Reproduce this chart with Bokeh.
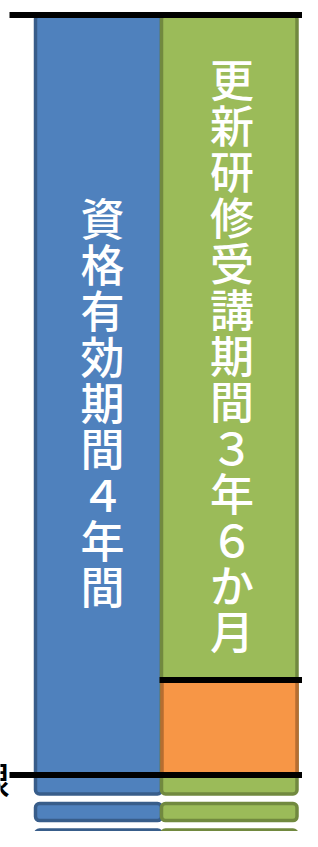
from bokeh.plotting import figure
from bokeh.models import Range1d, ColumnDataSource
from bokeh.core.properties import value
from bokeh.embed import file_html
from bokeh.resources import INLINE

# ---- data (time in years, measured downward from the start of validity) ----
column_labels = ["資格有効期間４年間", "更新研修受講期間３年６か月"]
period_years = [4.0, 3.5]          # validity period, renewal-course window
renewal_gap_start = 3.5            # end of the 3y6m course window
renewal_gap_end = 4.0              # expiry (期限)
expiry_label = "期限"
segment_tops = [0.0, 4.15, 4.29]   # continuing bar blocks (years)
segment_bottoms = [4.10, 4.24, 4.60]

# ---- styles / layout ----
BLUE, BLUE_EDGE = "#4F81BD", "#385D8A"
GREEN, GREEN_EDGE = "#9BBB59", "#71893F"
ORANGE, ORANGE_EDGE = "#F79646", "#B66D31"
PX_PER_YEAR = 190.0
ORIGIN = 14.5
W, H = 302, 831
FONT = "'Noto Sans CJK JP Medium', 'Noto Sans CJK JP'"

def yr(px):
    return (px - ORIGIN) / PX_PER_YEAR

col_left = [35.0, 161.0]
col_right = [161.0, 296.5]
text_x = [102.0, 231.5]
text_first = [yr(216), yr(77.5)]
pitch = 46.0 / PX_PER_YEAR

p = figure(width=W, height=H, output_backend="svg", toolbar_location=None,
           x_range=Range1d(0, W), y_range=Range1d(yr(H), yr(0)),
           x_axis_location=None, y_axis_location=None, min_border=0,
           background_fill_color="white", border_fill_color="white")
p.outline_line_color = None
p.grid.visible = False

fills = [(BLUE, BLUE_EDGE), (GREEN, GREEN_EDGE)]
for i, (fc, lc) in enumerate(fills):
    src = ColumnDataSource(dict(
        left=[col_left[i]] * len(segment_tops),
        right=[col_right[i]] * len(segment_tops),
        top=segment_tops, bottom=segment_bottoms))
    p.quad(left="left", right="right", top="top", bottom="bottom", source=src,
           fill_color=fc, line_color=lc, line_width=3.5, border_radius=4)

# orange remainder of the validity period
p.quad(left=[161.5], right=[296.5], top=[renewal_gap_start], bottom=[renewal_gap_end],
       fill_color=ORANGE, line_color=ORANGE_EDGE, line_width=3.5)

# vertical labels (one character per line)
for i, label in enumerate(column_labels):
    chars = list(label)
    ys = [text_first[i] + k * pitch for k in range(len(chars))]
    p.text(x=[text_x[i]] * len(chars), y=ys, text=chars,
           text_font=value(FONT), text_font_size="44px",
           text_color="white", text_align="center", text_baseline="middle")

# expiry label at the left edge (cut off, as in the original)
p.text(x=[9.5], y=[renewal_gap_end + yr(777) - yr(774.5)], text=[expiry_label],
       text_font=value(FONT), text_font_size="36px",
       text_color="black", text_align="right", text_baseline="middle")

# black reference lines
p.segment(x0=[9, 9, 159], x1=[312, 312, 310],
          y0=[0.0, renewal_gap_end, renewal_gap_start],
          y1=[0.0, renewal_gap_end, renewal_gap_start],
          line_color="black", line_width=6, line_cap="butt")

open("out.html", "w").write(file_html(p, INLINE))
